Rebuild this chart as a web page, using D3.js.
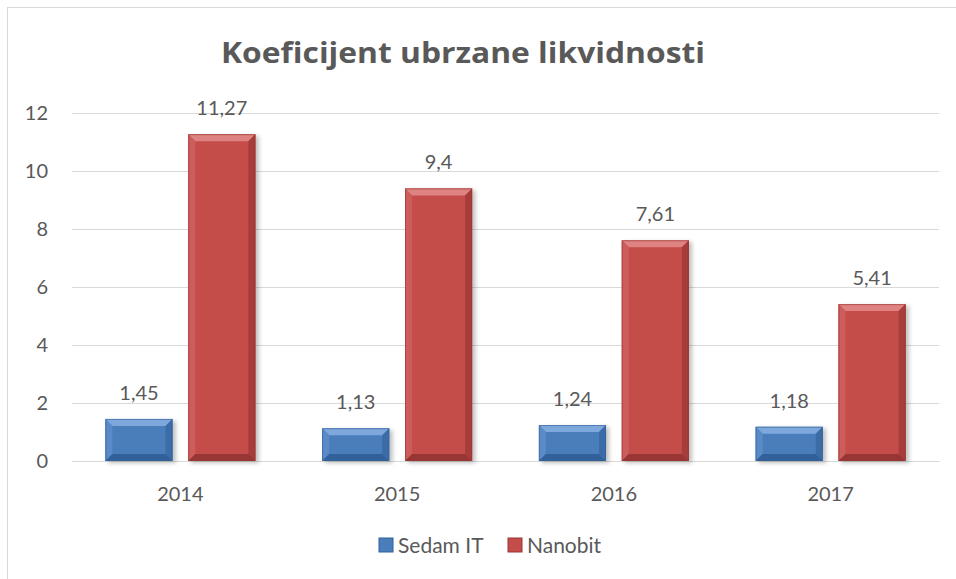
<!DOCTYPE html>
<html>
<head>
<meta charset="utf-8">
<script src="https://cdn.jsdelivr.net/npm/d3@7"></script>
<style>
  body { margin: 0; background: #fff; }
  text { font-family: Lato, "Open Sans", sans-serif; fill: #595959; }
</style>
</head>
<body>
<svg id="chart" width="956" height="579"></svg>
<script>
// chart data
var years = ["2014", "2015", "2016", "2017"]
var series = ["Sedam IT", "Nanobit"]
var sedamIT = [1.45, 1.13, 1.24, 1.18]
var nanobit = [11.27, 9.4, 7.61, 5.41]
var yTicks = [0, 2, 4, 6, 8, 10, 12]

var colors = {
    "Sedam IT": { main: "#4a7ebb", top: "#7ea8db", left: "#5a8bc7", right: "#3b6ca6", bottom: "#32609a" },
    "Nanobit": { main: "#c44d4a", top: "#de8381", left: "#cc5d5b", right: "#a63c3a", bottom: "#983634" }
}

var svg = d3.select("#chart")

// outer frame
svg.append("rect")
    .attr("x", 7.5).attr("y", 7.5)
    .attr("width", 980).attr("height", 600)
    .attr("fill", "#fff")
    .attr("stroke", "#d9d9d9")

var defs = svg.append("defs")
var shadow = defs.append("filter").attr("id", "shadow")
    .attr("x", "-20%").attr("y", "-20%").attr("width", "150%").attr("height", "150%")
shadow.append("feDropShadow")
    .attr("dx", 3).attr("dy", 2).attr("stdDeviation", 2)
    .attr("flood-color", "#000").attr("flood-opacity", 0.25)

var plot = { left: 72, right: 939, top: 113, bottom: 461 }

var y = d3.scaleLinear()
    .domain([0, 12])
    .range([plot.bottom, plot.top])

var x0 = d3.scaleBand()
    .domain(years)
    .range([plot.left, plot.right])

var x1 = d3.scaleBand()
    .domain(series)
    .range([33.4, 183.4])
    .paddingInner(0.19)

// y axis with gridlines
var yAxis = svg.append("g")
    .attr("transform", "translate(" + plot.left + ",0)")
    .call(d3.axisLeft(y)
        .tickValues(yTicks)
        .tickSize(-(plot.right - plot.left))
        .tickPadding(24))
yAxis.select(".domain").remove()
yAxis.selectAll("line").attr("stroke", "#d9d9d9")
yAxis.selectAll("text")
    .style("font-size", "20px")
    .attr("fill", "#595959")

// x axis labels
var xAxis = svg.append("g")
    .attr("transform", "translate(0," + plot.bottom + ")")
    .call(d3.axisBottom(x0).tickSize(0).tickPadding(26))
xAxis.select(".domain").attr("stroke", "#d9d9d9")
xAxis.selectAll("text")
    .style("font-size", "20px")
    .attr("fill", "#595959")

var rows = []
years.forEach(function(yr, i) {
    rows.push({ year: yr, name: "Sedam IT", value: sedamIT[i] })
    rows.push({ year: yr, name: "Nanobit", value: nanobit[i] })
})

var bev = 7

var bars = svg.append("g").selectAll("g")
    .data(rows)
    .join("g")
    .attr("filter", "url(#shadow)")

bars.each(function(d) {
    var g = d3.select(this)
    var bx = x0(d.year) + x1(d.name)
    var bw = x1.bandwidth()
    var by = y(d.value)
    var bh = y(0) - by
    var c = colors[d.name]
    var b = Math.min(bev, bh / 2)
    g.append("rect")
        .attr("x", bx).attr("y", by)
        .attr("width", bw).attr("height", bh)
        .attr("fill", c.main)
    // bevel edges
    var x2 = bx + bw, y2 = by + bh
    g.append("polygon").attr("fill", c.top)
        .attr("points", [[bx, by], [x2, by], [x2 - b, by + b], [bx + b, by + b]].join(" "))
    g.append("polygon").attr("fill", c.left)
        .attr("points", [[bx, by], [bx + b, by + b], [bx + b, y2 - b], [bx, y2]].join(" "))
    g.append("polygon").attr("fill", c.right)
        .attr("points", [[x2, by], [x2, y2], [x2 - b, y2 - b], [x2 - b, by + b]].join(" "))
    g.append("polygon").attr("fill", c.bottom)
        .attr("points", [[bx, y2], [x2, y2], [x2 - b, y2 - b], [bx + b, y2 - b]].join(" "))
    g.append("rect")
        .attr("x", bx + 0.5).attr("y", by + 0.5)
        .attr("width", bw - 1).attr("height", bh - 1)
        .attr("fill", "none")
        .attr("stroke", c.bottom)
        .attr("stroke-opacity", 0.6)
})

// value labels
svg.append("g").selectAll("text")
    .data(rows)
    .join("text")
    .attr("x", d => x0(d.year) + x1(d.name) + x1.bandwidth() / 2)
    .attr("y", d => y(d.value) - 19)
    .attr("text-anchor", "middle")
    .style("font-size", "20px")
    .text(d => String(d.value).replace(".", ","))

// title
svg.append("text")
    .attr("x", 463)
    .attr("y", 63)
    .attr("text-anchor", "middle")
    .style("font-family", "'Open Sans', sans-serif")
    .style("font-size", "29px")
    .style("font-weight", "bold")
    .attr("textLength", 484)
    .attr("lengthAdjust", "spacingAndGlyphs")
    .text("Koeficijent ubrzane likvidnosti")

// legend
var legendX = [379, 508]
var legend = svg.append("g").selectAll("g")
    .data(series)
    .join("g")
    .attr("transform", (d, i) => "translate(" + legendX[i] + ",538)")
legend.append("rect")
    .attr("width", 14).attr("height", 14)
    .attr("fill", d => colors[d].main)
    .attr("stroke", d => colors[d].bottom)
legend.append("text")
    .attr("x", 19)
    .attr("y", 15)
    .style("font-size", "21px")
    .text(d => d)
</script>
</body>
</html>
